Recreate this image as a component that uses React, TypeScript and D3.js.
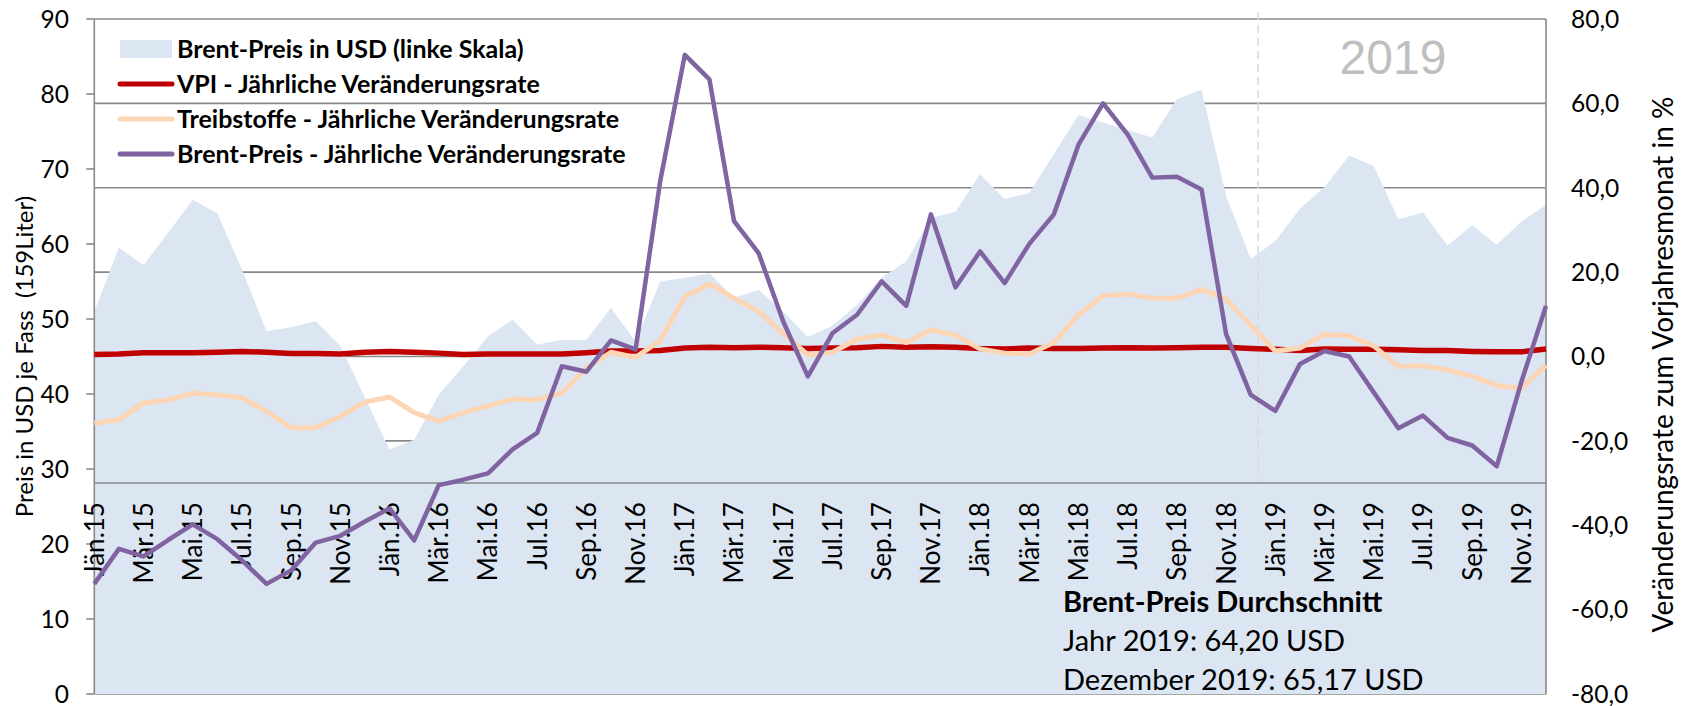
import React from "react";
import * as d3 from "d3";

// ---------- data ----------
const monthNames = ["Jän", "Feb", "Mär", "Apr", "Mai", "Jun", "Jul", "Aug", "Sep", "Okt", "Nov", "Dez"];
const years = ["15", "16", "17", "18", "19"];
const categories: string[] = years.flatMap((y) => monthNames.map((m) => `${m}.${y}`));

// Brent price in USD (left axis)
const brentPrice = [
  51.0, 59.5, 57.2, 61.5, 65.9, 64.1, 56.6, 48.4, 48.9, 49.7, 46.4, 39.5,
  32.6, 33.9, 39.9, 43.7, 47.7, 49.9, 46.6, 47.2, 47.2, 51.5, 47.0, 55.0,
  55.5, 56.1, 52.8, 53.9, 51.0, 47.6, 49.1, 51.9, 55.5, 57.7, 63.5, 64.3,
  69.3, 66.0, 66.8, 72.0, 77.2, 76.2, 75.2, 74.2, 79.3, 80.6, 66.4, 58.0,
  60.4, 64.7, 67.6, 71.8, 70.4, 63.3, 64.2, 59.8, 62.5, 59.9, 63.0, 65.2,
];
// VPI yearly change rate (right axis)
const vpiRate = [
  0.5, 0.6, 0.9, 0.9, 0.9, 1.0, 1.2, 1.0, 0.7, 0.7, 0.6, 1.0,
  1.2, 1.0, 0.8, 0.5, 0.6, 0.6, 0.6, 0.6, 0.9, 1.3, 1.3, 1.4,
  2.0, 2.2, 2.1, 2.2, 2.1, 1.9, 2.0, 2.1, 2.4, 2.2, 2.3, 2.2,
  1.9, 1.8, 2.0, 1.9, 1.9, 2.0, 2.1, 2.0, 2.1, 2.2, 2.2, 1.9,
  1.7, 1.4, 1.8, 1.7, 1.7, 1.6, 1.4, 1.4, 1.2, 1.1, 1.1, 1.8,
];
// Treibstoffe yearly change rate (right axis)
const fuelRate = [
  -15.8, -15.0, -11.0, -10.3, -8.7, -9.1, -9.8, -13.0, -16.9, -16.9, -14.2, -10.8,
  -9.6, -13.3, -15.3, -13.3, -11.7, -10.1, -10.3, -8.7, -2.7, 1.0, -0.2, 3.8,
  14.2, 17.2, 13.8, 10.7, 5.5, 0.4, 1.0, 4.1, 5.1, 3.3, 6.3, 5.1,
  1.8, 0.8, 0.6, 3.3, 9.9, 14.4, 14.8, 13.8, 13.8, 15.9, 13.6, 7.4,
  1.3, 2.0, 5.3, 4.9, 2.5, -2.4, -2.2, -3.2, -4.7, -6.9, -7.5, -2.1,
];
// Brent price yearly change rate (right axis)
const brentRate = [
  -53.9, -45.6, -47.4, -43.5, -39.8, -43.3, -48.3, -53.9, -50.7, -44.1, -42.5, -39.1,
  -36.0, -43.6, -30.5, -29.2, -27.7, -22.0, -18.1, -2.3, -3.6, 3.8, 1.7, 41.6,
  71.5, 65.7, 32.1, 24.5, 8.3, -4.7, 5.5, 9.9, 17.8, 12.0, 33.7, 16.4,
  24.9, 17.4, 26.7, 33.7, 50.2, 60.0, 52.6, 42.4, 42.6, 39.6, 5.3, -9.1,
  -12.9, -1.8, 1.3, 0.0, -8.5, -17.0, -14.0, -19.3, -21.1, -26.0, -6.0, 12.0,
];

const leftTicks = [0, 10, 20, 30, 40, 50, 60, 70, 80, 90];
const rightTicks = [-80, -60, -40, -20, 0, 20, 40, 60, 80];
const categoryAxisCross = -30; // right-axis value where category axis sits
const yearMarkerIndex = 47.3; // dashed separator before 2019

const legendItems = [
  { label: "Brent-Preis in USD (linke Skala)", type: "area", color: "#dce6f2" },
  { label: "VPI - Jährliche Veränderungsrate", type: "line", color: "#c00000" },
  { label: "Treibstoffe - Jährliche Veränderungsrate", type: "line", color: "#fcd5b5" },
  { label: "Brent-Preis - Jährliche Veränderungsrate", type: "line", color: "#8064a2" },
];

const noteLines = ["Brent-Preis Durchschnitt", "Jahr 2019: 64,20 USD", "Dezember 2019: 65,17 USD"];

// ---------- layout ----------
const W = 1684;
const H = 706;
const PL = 94.3;
const PR = 1546;
const PT = 19;
const PB = 694;
const FONT = "Lato, 'Open Sans', sans-serif";
const GRID = "#898989";

export default function App() {
  const x = d3.scaleLinear().domain([0, categories.length - 1]).range([PL, PR]);
  const yL = d3.scaleLinear().domain([0, 90]).range([PB, PT]);
  const yR = d3.scaleLinear().domain([-80, 80]).range([PB, PT]);

  const area = d3
    .area<number>()
    .x((_, i) => x(i))
    .y0(yL(0))
    .y1((d) => yL(d));
  const line = d3
    .line<number>()
    .x((_, i) => x(i))
    .y((d) => yR(d));

  const axisY = yR(categoryAxisCross);

  return (
    <svg
      width={W}
      height={H}
      style={{ position: "absolute", left: 0, top: 0, background: "#fff" }}
      fontFamily={FONT}
    >
      {/* gridlines (behind area) */}
      {rightTicks.map((t) => (
        <line key={"g" + t} x1={PL} x2={PR} y1={yR(t)} y2={yR(t)} stroke={GRID} strokeWidth={1.6} />
      ))}

      {/* area */}
      <path d={area(brentPrice) || ""} fill="#dce6f2" />

      {/* year separator */}
      <line
        x1={x(yearMarkerIndex)}
        x2={x(yearMarkerIndex)}
        y1={12}
        y2={axisY}
        stroke="#d9d9d9"
        strokeWidth={1.5}
        strokeDasharray="8,5"
      />

      {/* category axis line */}
      <line x1={PL} x2={PR} y1={axisY} y2={axisY} stroke={GRID} strokeWidth={1.6} />
      {/* left axis line and right border */}
      <line x1={PL} x2={PL} y1={PT} y2={PB} stroke={GRID} strokeWidth={1.6} />
      <line x1={PR} x2={PR} y1={PT} y2={PB} stroke={GRID} strokeWidth={1.6} />

      {/* left ticks */}
      {leftTicks.map((t) => (
        <g key={"l" + t}>
          <line x1={PL - 8} x2={PL} y1={yL(t)} y2={yL(t)} stroke={GRID} strokeWidth={1.6} />
          <text x={69} y={yL(t)} dy="0.36em" textAnchor="end" fontSize={24.5} fill="#000">
            {t}
          </text>
        </g>
      ))}

      {/* right tick labels */}
      {rightTicks.map((t) => (
        <text key={"r" + t} x={1571} y={yR(t)} dy="0.36em" textAnchor="start" fontSize={24.5} fill="#000">
          {d3.format(".1f")(t).replace(".", ",").replace("−", "-")}
        </text>
      ))}

      {/* category labels */}
      {categories.map((c, i) =>
        i % 2 === 0 ? (
          <text
            key={"c" + i}
            transform={`translate(${x(i)},${axisY + 19}) rotate(-90)`}
            dy="0.36em"
            textAnchor="end"
            fontSize={26}
            fill="#000"
          >
            {c}
          </text>
        ) : null
      )}

      {/* series lines */}
      <path d={line(vpiRate) || ""} fill="none" stroke="#c00000" strokeWidth={5.5} strokeLinejoin="round" />
      <path d={line(fuelRate) || ""} fill="none" stroke="#fcd5b5" strokeWidth={5} strokeLinejoin="round" />
      <path d={line(brentRate) || ""} fill="none" stroke="#8064a2" strokeWidth={4.5} strokeLinejoin="round" />

      {/* 2019 label */}
      <text x={1393} y={74} textAnchor="middle" fontSize={48} fill="#bfbfbf" fontFamily="'Liberation Sans', Arial, sans-serif">
        2019
      </text>

      {/* legend */}
      {legendItems.map((it, i) => {
        const cy = 49 + i * 35;
        return (
          <g key={"lg" + i}>
            {it.type === "area" ? (
              <rect x={120} y={cy - 9} width={52} height={18} fill={it.color} />
            ) : (
              <line x1={120} x2={172} y1={cy} y2={cy} stroke={it.color} strokeWidth={5} strokeLinecap="round" />
            )}
            <text x={177} y={cy} dy="0.36em" fontSize={25} fontWeight={700} fill="#000">
              {it.label}
            </text>
          </g>
        );
      })}

      {/* note */}
      {noteLines.map((t, i) => (
        <text key={"n" + i} x={1063} y={612 + i * 39} fontSize={29} fontWeight={i === 0 ? 700 : 400} fill="#000">
          {t}
        </text>
      ))}

      {/* axis titles */}
      <text
        transform={`translate(33,${(PT + PB) / 2}) rotate(-90)`}
        textAnchor="middle"
        fontSize={24}
        fill="#000"
        style={{ whiteSpace: "pre" }}
      >
        {"Preis in USD je Fass  (159Liter)"}
      </text>
      <text
        transform={`translate(1673,${(PT + PB) / 2 + 8}) rotate(-90)`}
        textAnchor="middle"
        fontSize={28}
        fill="#000"
      >
        Veränderungsrate zum Vorjahresmonat in %
      </text>
    </svg>
  );
}
